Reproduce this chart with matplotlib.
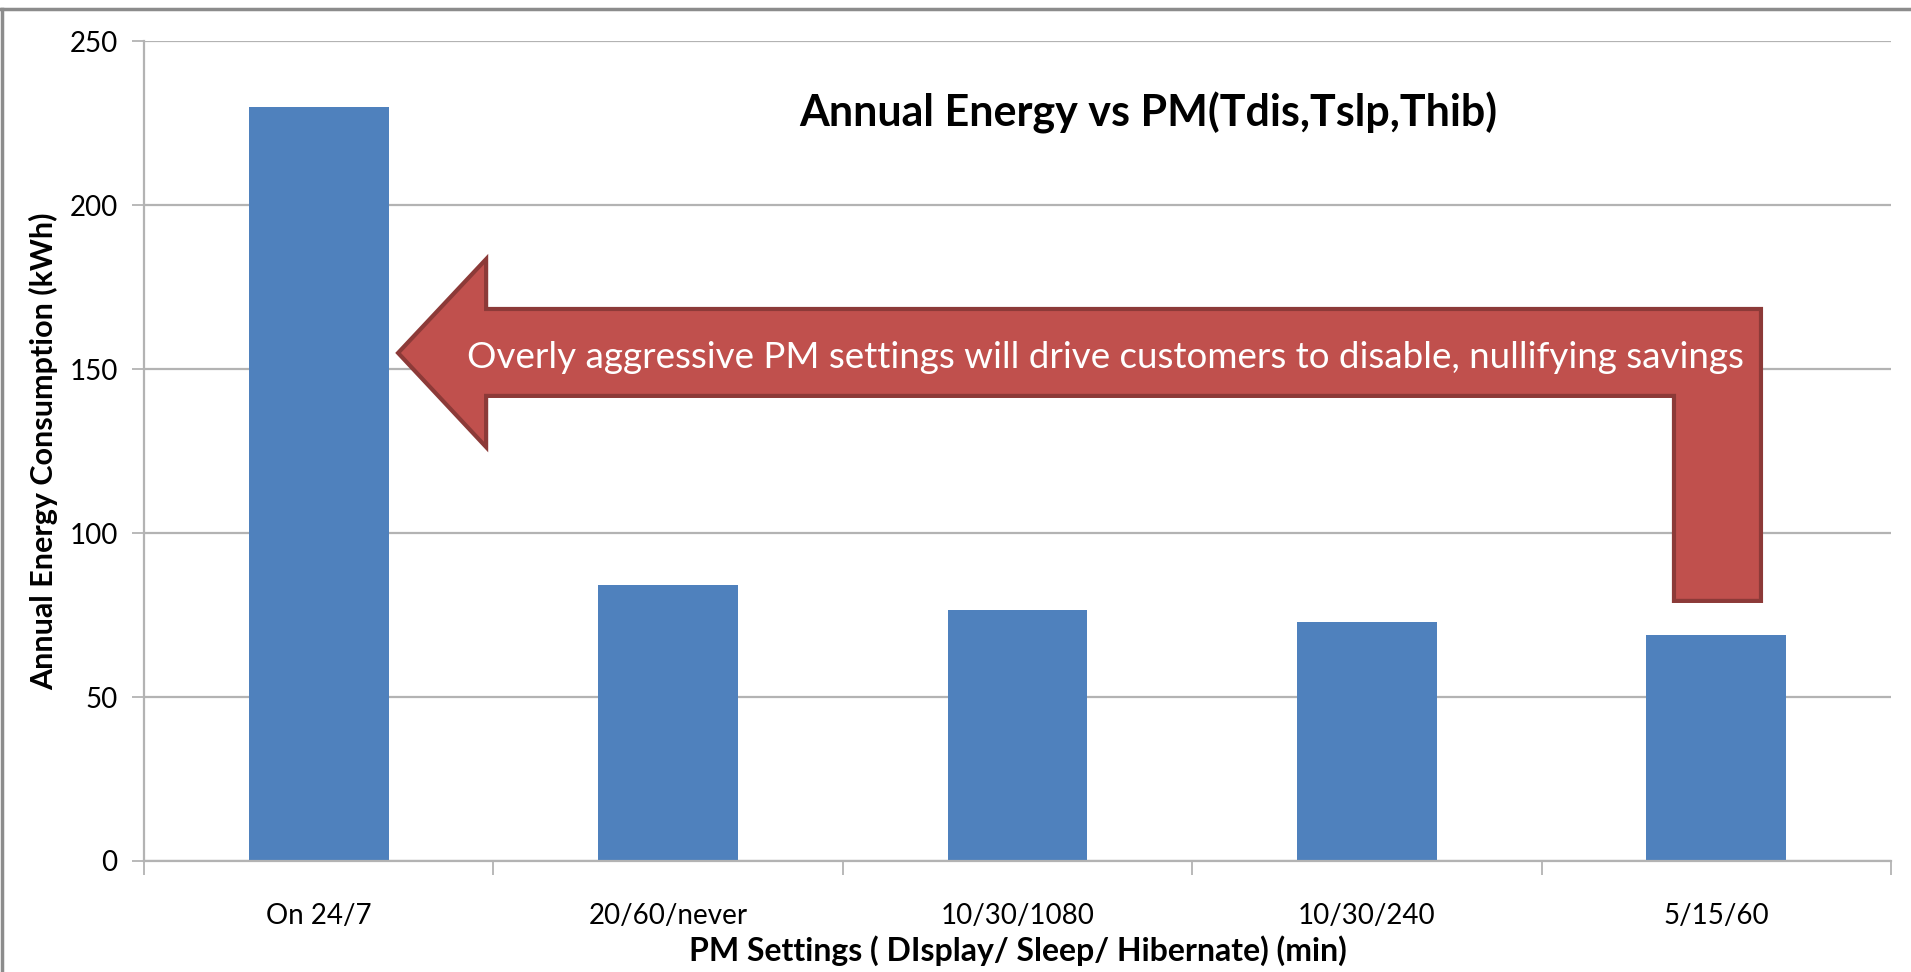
import numpy as np
import matplotlib.pyplot as plt
from matplotlib.patches import Polygon

### Data
categories = ['On 24/7', '20/60/never', '10/30/1080', '10/30/240', '5/15/60']
energy_kwh = [230, 84, 76.5, 73, 69]

title = 'Annual Energy vs PM(Tdis,Tslp,Thib)'
xlabel = 'PM Settings ( DIsplay/ Sleep/ Hibernate) (min)'
ylabel = 'Annual Energy Consumption (kWh)'
note = 'Overly aggressive PM settings will drive customers to disable, nullifying savings'

### Style
plt.rcParams['font.family'] = ['Lato', 'DejaVu Sans']
bar_color = '#4F81BD'
arrow_color = '#C0504D'
arrow_edge = '#8C3A38'
grid_color = '#B3B3B3'

fig = plt.figure(figsize=(19.11, 9.72), dpi=100)
ax = fig.add_axes([0.0754, 0.1142, 0.9141, 0.8436])

x = np.arange(len(categories))
ax.bar(x, energy_kwh, width=0.4, color=bar_color, zorder=2)

ax.set_xlim(-0.5, len(categories) - 0.5)
ax.set_ylim(0, 250)
ax.set_yticks([0, 50, 100, 150, 200, 250])
ax.yaxis.grid(True, color=grid_color, linewidth=1.6, zorder=0)

# category labels at bar centres, separator ticks at category edges
ax.set_xticks(x)
ax.set_xticklabels(categories, fontsize=20)
ax.set_xticks(np.arange(len(categories) + 1) - 0.5, minor=True)
ax.tick_params(axis='x', which='major', length=0, pad=30)
ax.tick_params(axis='x', which='minor', length=10, width=1.3, color=grid_color)
ax.tick_params(axis='y', length=9, width=1.3, color=grid_color, labelsize=20, pad=10)

for side in ['top', 'right']:
    ax.spines[side].set_visible(False)
for side in ['left', 'bottom']:
    ax.spines[side].set_color(grid_color)
    ax.spines[side].set_linewidth(1.6)

ax.set_xlabel(xlabel, fontsize=23, fontweight='bold', labelpad=5)
ax.set_ylabel(ylabel, fontsize=22, fontweight='bold', labelpad=8)

ax.text(2.373, 228, title, fontsize=31, fontweight='bold', ha='center', va='center')

# bent arrow callout (data coordinates)
arrow_pts = [(0.227, 154.9), (0.479, 183.5), (0.479, 168.3), (4.128, 168.3),
             (4.128, 79.3), (3.879, 79.3), (3.879, 141.8), (0.479, 141.8),
             (0.479, 126.2)]
ax.add_patch(Polygon(arrow_pts, closed=True, facecolor=arrow_color,
                     edgecolor=arrow_edge, linewidth=3, zorder=3))
ax.text(2.253, 153.4, note, fontsize=26.5, color='white', ha='center', va='center', zorder=4)

# outer frame of the chart area
fig.add_artist(plt.Line2D([0, 1], [0.9907, 0.9907], transform=fig.transFigure,
                          color='#8C8C8C', linewidth=2.5))
fig.add_artist(plt.Line2D([0.0008, 0.0008], [0, 0.9907], transform=fig.transFigure,
                          color='#8C8C8C', linewidth=2.5))

fig.savefig('out.png', dpi=100)
